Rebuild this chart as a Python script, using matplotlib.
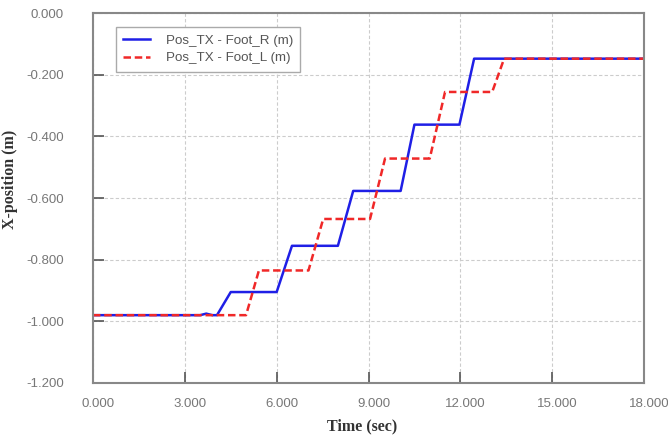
import matplotlib
matplotlib.use("Agg")
import matplotlib.pyplot as plt
import matplotlib.transforms as mtransforms

# Foot_R (blue) breakpoints
time_r = [0.0, 3.5, 3.7, 3.9, 4.05, 4.5, 6.0, 6.5, 8.0, 8.5, 10.05, 10.5, 11.97, 12.45, 18.0]
pos_r = [-0.980, -0.980, -0.975, -0.980, -0.980, -0.905, -0.905, -0.755, -0.755, -0.577,
         -0.577, -0.362, -0.362, -0.148, -0.148]

# Foot_L (red) breakpoints
time_l = [0.0, 5.0, 5.42, 7.04, 7.52, 9.05, 9.54, 11.0, 11.5, 13.04, 13.43, 18.0]
pos_l = [-0.980, -0.980, -0.835, -0.835, -0.668, -0.668, -0.472, -0.472, -0.256, -0.256,
         -0.148, -0.148]

xticks = [0, 3, 6, 9, 12, 15, 18]
yticks = [0.0, -0.2, -0.4, -0.6, -0.8, -1.0, -1.2]

fig = plt.figure(figsize=(6.68, 4.42), dpi=100)
ax = fig.add_axes([0.1392, 0.1335, 0.8249, 0.837])

ax.plot(time_r, pos_r, color="#1f1fe6", lw=1.8, label="Pos_TX - Foot_R (m)")
ax.plot(time_l, pos_l, color="#f02828", lw=1.8, ls=(0, (3, 1.5)), label="Pos_TX - Foot_L (m)")

ax.set_xlim(0, 18)
ax.set_ylim(-1.2, 0.0)
ax.set_xticks(xticks)
ax.set_yticks(yticks)
ax.set_xticklabels(["%.3f" % v for v in xticks])
ax.set_yticklabels(["%.3f" % v for v in yticks])

ax.grid(True, color="#cccccc", ls=(0, (3, 2)), lw=0.8)
ax.tick_params(direction="in", length=8, width=1.2, color="#555555",
               labelcolor="#777777", labelsize=9.5)
ax.tick_params(axis="y", pad=21)
ax.tick_params(axis="x", pad=11)
shift = mtransforms.ScaledTranslation(5 / 100, 0, fig.dpi_scale_trans)
for t in ax.get_xticklabels():
    t.set_transform(t.get_transform() + shift)
for t in ax.get_xticklabels() + ax.get_yticklabels():
    t.set_fontfamily("Liberation Sans")
for s in ax.spines.values():
    s.set_color("#888888")
    s.set_linewidth(1.5)

ax.set_xlabel("Time (sec)", fontfamily="Liberation Serif", fontweight="bold",
              fontsize=11.5, color="#333333", va="center")
ax.set_ylabel("X-position (m)", fontfamily="Liberation Serif", fontweight="bold",
              fontsize=11.5, color="#333333", va="center")
ax.xaxis.set_label_coords(0.488, -0.116)
ax.yaxis.set_label_coords(-0.150, 0.55)

leg = ax.legend(loc="upper left", bbox_to_anchor=(0.041, 0.962), fancybox=False,
                prop={"family": "Liberation Sans", "size": 9.6}, labelcolor="#555555",
                handlelength=2.0, handletextpad=1.2, borderpad=0.55, labelspacing=0.4,
                framealpha=1, borderaxespad=0)
leg.get_frame().set_edgecolor("#aaaaaa")
leg.get_frame().set_linewidth(1.0)

fig.savefig("out.png", dpi=100)
